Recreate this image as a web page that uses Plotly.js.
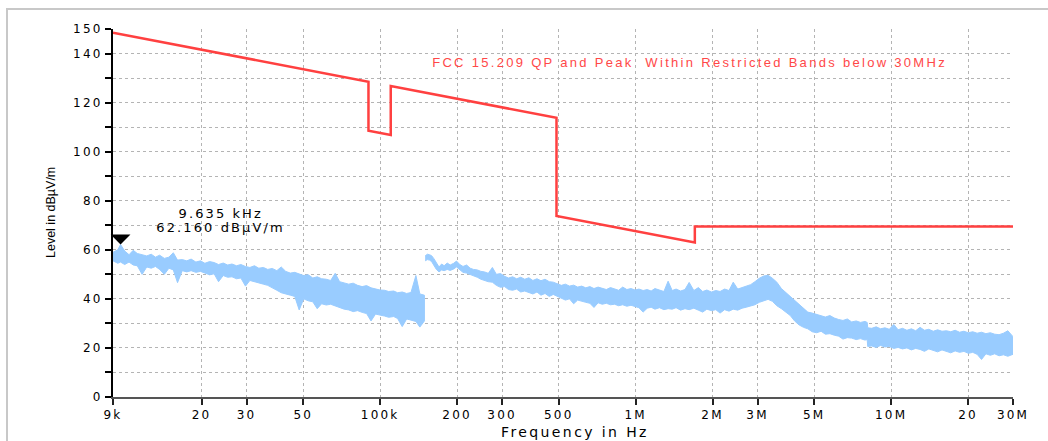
<!DOCTYPE html>
<html>
<head>
<meta charset="utf-8">
<script src="https://cdn.plot.ly/plotly-3.0.1.min.js"></script>
<style>
  html, body { margin: 0; padding: 0; background: #fff; }
  #wrap { position: relative; width: 1048px; height: 441px; overflow: hidden; }
  #frame { position: absolute; left: 6px; top: 8px; width: 1100px; height: 500px;
           border-top: 2px solid #c8c8c8; border-left: 2px solid #c8c8c8; }
  #chart { position: absolute; left: 0; top: 0; width: 1048px; height: 441px; }
  #chart .xtick text, #chart .ytick text { letter-spacing: 2.2px; }
  #chart .annotation[data-index="0"] text { letter-spacing: 2.3px; }
  #chart .annotation[data-index="1"] text,
  #chart .annotation[data-index="2"] text { letter-spacing: 2.1px; }
  #chart .annotation[data-index="4"] text { letter-spacing: 2.4px; }
</style>
</head>
<body>
<div id="wrap">
  <div id="frame"></div>
  <div id="chart"></div>
</div>
<script>
// Peak-detector sweep, 9 kHz - 150 kHz band (frequency in kHz, band top / bottom in dBµV/m)
const sweepLowFreqKHz = [9, 9.4, 9.635, 10, 10.4, 10.8, 11.2, 11.7, 12.2, 12.7, 13.2, 13.7, 14.3, 14.9, 15.5, 16.1,
  16.8, 17.5, 18.2, 19, 19.8, 20.6, 21.5, 22.4, 23.3, 24.3, 25.3, 26.3, 27.4, 28.5, 29.7, 30.9, 32.2, 33.5, 34.9,
  36.3, 37.8, 39.4, 41, 42.7, 44.5, 46.3, 48.2, 50.2, 52.3, 54.5, 56.7, 59, 61.5, 64, 66.7, 69.4, 72.3, 75.3, 78.4,
  81.6, 85, 88.5, 92.1, 95.9, 99.9, 104, 108, 113, 117, 122, 127, 132, 138, 143, 149];
const sweepLowTop = [59.0, 60.0, 62.16, 59.5, 58.0, 59.8, 58.5, 58.0, 57.5, 58.2, 57.0, 57.8, 56.5, 57.0, 58.8, 55.8,
  56.0, 55.5, 56.2, 55.0, 55.5, 54.5, 55.2, 54.8, 54.0, 54.6, 53.8, 54.2, 53.5, 54.0, 53.2, 52.8, 53.5, 52.5, 52.8,
  52.0, 52.4, 51.5, 53.0, 51.2, 50.5, 50.8, 50.0, 49.5, 49.8, 48.5, 49.0, 48.2, 48.0, 47.5, 50.4, 47.0, 46.5, 46.0, 46.4,
  45.5, 45.0, 45.4, 44.5, 44.0, 43.6, 43.5, 43.0, 43.2, 42.5, 42.8, 42.2, 42.6, 49.5, 42.0, 41.5];
const sweepLowBottom = [55.5, 54.5, 55.0, 54.0, 55.0, 53.8, 53.5, 50.0, 53.0, 52.5, 53.2, 52.0, 50.0, 52.5, 51.8, 46.6,
  51.5, 51.0, 51.5, 50.8, 51.2, 50.5, 49.8, 50.2, 47.0, 49.5, 48.8, 49.0, 48.2, 48.5, 45.2, 47.5, 47.0, 46.5, 46.0,
  45.5, 44.5, 43.5, 42.5, 42.0, 41.5, 41.0, 35.5, 40.0, 39.2, 38.8, 36.0, 38.0, 37.5, 37.8, 37.0, 36.5, 35.8, 35.5, 34.8,
  35.2, 34.5, 34.0, 31.0, 33.8, 33.5, 33.0, 32.5, 32.8, 32.0, 28.7, 31.8, 31.5, 30.8, 28.5, 31.0];

// Peak-detector sweep, 150 kHz - 30 MHz band
const sweepHighFreqKHz = [150, 153, 156, 159, 162, 166, 170, 174, 178, 183, 188, 194, 199, 205, 211, 218, 225, 232,
  240, 248, 256, 265, 275, 285, 296, 307, 318, 330, 342, 355, 368, 382, 396, 411, 426, 442, 459, 476, 494, 512, 531,
  551, 572, 593, 615, 638, 662, 687, 713, 740, 768, 797, 827, 858, 890, 924, 959, 995, 1030, 1070, 1110, 1150, 1190,
  1240, 1290, 1340, 1390, 1440, 1500, 1560, 1620, 1690, 1760, 1830, 1900, 1980, 2060, 2140, 2230, 2320, 2410, 2510,
  2610, 2710, 2820, 2930, 3050, 3170, 3300, 3430, 3570, 3720, 3870, 4030, 4190, 4360, 4540, 4720, 4910, 5110, 5320,
  5530, 5760, 5990, 6230, 6480, 6740, 7010, 7300, 7590, 7900, 8060, 8100, 8400, 8740, 9090, 9460, 9840, 10240, 10650,
  11080, 11530, 12000, 12480, 12980, 13500, 14050, 14620, 15210, 15820, 16460, 17120, 17810, 18530, 19280, 20060,
  20870, 21710, 22590, 23500, 24450, 25430, 26460, 27530, 28640, 30000];
const sweepHighTop = [57.5, 58.2, 58.0, 57.6, 56.5, 54.5, 53.0, 54.2, 53.5, 54.6, 53.8, 54.5, 55.4, 54.0, 53.2, 53.8,
  52.5, 52.0, 51.8, 51.2, 51.0, 50.4, 52.8, 50.0, 50.3, 49.2, 48.5, 49.0, 48.2, 48.8, 48.0, 48.6, 47.5, 48.2, 47.4,
  48.0, 47.0, 46.8, 46.2, 45.5, 46.0, 45.2, 45.6, 44.8, 45.2, 44.5, 45.0, 44.2, 44.8, 44.4, 43.8, 44.6, 44.2, 43.5,
  44.8, 43.8, 44.2, 43.6, 44.0, 43.4, 43.8, 43.2, 44.2, 43.6, 43.0, 47.2, 43.4, 44.0, 43.2, 43.8, 46.7, 43.4, 44.6,
  43.0, 43.6, 42.8, 43.4, 43.0, 44.0, 43.4, 46.8, 44.0, 44.6, 45.2, 45.8, 47.0, 48.4, 49.3, 49.6, 48.4, 46.8, 44.2,
  42.6, 40.8, 39.4, 37.6, 36.0, 34.6, 34.2, 33.6, 33.0, 32.6, 33.2, 32.2, 31.6, 31.2, 31.8, 30.6, 31.0, 30.4, 30.8,
  30.4, 28.2, 28.0, 28.6, 27.8, 28.2, 27.6, 29.6, 27.4, 28.0, 27.2, 27.8, 27.0, 28.4, 27.2, 27.6, 26.8, 27.4, 26.8,
  27.0, 26.6, 27.2, 26.4, 26.8, 26.2, 26.6, 26.0, 26.4, 25.8, 26.2, 25.6, 25.4, 26.0, 27.0, 24.6];
const sweepHighBottom = [55.5, 56.0, 55.8, 55.2, 54.0, 52.0, 51.0, 51.8, 51.5, 52.0, 51.6, 52.2, 53.0, 51.8, 50.8,
  50.5, 49.8, 49.5, 48.8, 48.0, 47.5, 47.0, 46.8, 45.5, 44.7, 45.0, 43.8, 43.5, 44.0, 42.8, 43.2, 42.5, 42.0, 42.8,
  41.5, 42.2, 41.0, 41.8, 40.8, 40.2, 39.5, 40.0, 38.0, 39.5, 39.0, 38.6, 38.2, 36.5, 38.4, 37.8, 38.2, 37.6, 37.8,
  37.2, 37.6, 37.0, 37.4, 36.8, 36.4, 34.6, 36.2, 36.6, 35.8, 36.4, 35.6, 36.0, 35.8, 36.4, 35.4, 36.0, 35.6, 36.2,
  35.4, 34.6, 35.8, 35.2, 35.6, 34.2, 35.6, 35.0, 35.8, 35.4, 36.2, 36.6, 37.0, 37.6, 38.6, 39.2, 39.8, 39.0, 37.2,
  36.0, 34.8, 33.2, 31.0, 29.4, 28.4, 27.8, 26.6, 26.2, 26.8, 25.6, 25.8, 25.2, 24.8, 23.6, 24.2, 24.0, 23.4, 23.8,
  23.2, 23.4, 20.6, 20.8, 20.2, 21.0, 20.4, 20.6, 19.8, 20.2, 19.6, 20.0, 19.2, 19.8, 19.4, 18.6, 19.6, 19.0, 18.4,
  19.2, 18.6, 18.0, 18.8, 18.2, 18.6, 17.8, 18.2, 17.4, 15.3, 17.6, 17.0, 17.6, 16.8, 17.2, 16.6, 17.4];

// FCC 15.209 limit line (Hz, dBµV/m)
const limitFreqHz = [9e3, 90e3, 90e3, 110e3, 110e3, 490e3, 490e3, 1.705e6, 1.705e6, 30e6];
const limitLevel = [148.5, 128.5, 108.5, 106.8, 126.8, 113.8, 73.8, 63.0, 69.5, 69.5];
const limitName = 'FCC 15.209 QP and Peak\u00a0 Within Restricted Bands below 30MHz';

// Peak marker
const markerFreqHz = 9635;
const markerLevel = 62.16;

// Axis ticks
const xTickVals = [9e3, 2e4, 3e4, 5e4, 1e5, 2e5, 3e5, 5e5, 1e6, 2e6, 3e6, 5e6, 1e7, 2e7, 3e7];
const xTickText = ['9k', '20', '30', '50', '100k', '200', '300', '500', '1M', '2M', '3M', '5M', '10M', '20', '30M'];
const yTickVals = [0, 10, 20, 30, 40, 50, 60, 70, 80, 90, 100, 110, 120, 130, 140, 150];
const yTickText = ['0', '', '20', '', '40', '', '60', '', '80', '', '100', '', '120', '', '140', '150'];

// Closed outline of a min/max sweep band: top edge left-to-right, bottom edge back.
function bandTrace(freqKHz, top, bottom) {
  const f = freqKHz.map(v => v * 1000);
  return {
    x: f.concat(f.slice().reverse()),
    y: top.concat(bottom.slice().reverse()),
    type: 'scatter', mode: 'lines', fill: 'toself',
    fillcolor: '#99ccff', line: { color: '#99ccff', width: 1 },
    hoverinfo: 'skip'
  };
}

const traces = [
  bandTrace(sweepLowFreqKHz, sweepLowTop, sweepLowBottom),
  bandTrace(sweepHighFreqKHz, sweepHighTop, sweepHighBottom),
  {
    x: limitFreqHz, y: limitLevel, type: 'scatter', mode: 'lines',
    name: limitName, line: { color: '#ff4040', width: 2.5 }
  }
];

const tickFont = { family: 'DejaVu Sans', size: 12, color: '#000' };
const markerX = Math.log10(markerFreqHz);

const layout = {
  width: 1048, height: 441,
  margin: { l: 113, r: 35, t: 29, b: 44 },
  paper_bgcolor: 'rgba(0,0,0,0)',
  plot_bgcolor: '#ffffff',
  showlegend: false,
  xaxis: {
    type: 'log',
    range: [Math.log10(xTickVals[0]), Math.log10(xTickVals[xTickVals.length - 1])],
    tickmode: 'array', tickvals: xTickVals, ticktext: xTickText,
    ticks: 'outside', ticklen: 6, tickwidth: 2, tickcolor: '#222',
    showline: true, linecolor: '#555', linewidth: 2,
    showgrid: true, gridcolor: '#b4b4b4', gridwidth: 1, griddash: 'dot',
    zeroline: false, tickfont: tickFont, fixedrange: true
  },
  yaxis: {
    range: [yTickVals[0], yTickVals[yTickVals.length - 1]],
    tickmode: 'array', tickvals: yTickVals, ticktext: yTickText,
    ticks: 'outside', ticklen: 6, tickwidth: 2, tickcolor: '#000',
    showline: true, linecolor: '#000', linewidth: 2,
    showgrid: true, gridcolor: '#b4b4b4', gridwidth: 1, griddash: 'dot',
    zeroline: false, tickfont: tickFont, fixedrange: true
  },
  annotations: [
    { // limit line name
      text: limitName, xref: 'paper', yref: 'paper', x: 0.641, y: 0.910,
      xanchor: 'center', yanchor: 'middle', showarrow: false,
      font: { family: 'Liberation Sans', size: 13, color: '#ff4848' }
    },
    { // marker frequency
      text: (markerFreqHz / 1000).toFixed(3) + ' kHz', xref: 'x', yref: 'y',
      x: markerX, y: markerLevel, xanchor: 'center', yanchor: 'middle',
      xshift: 100, yshift: 31, showarrow: false,
      font: { family: 'DejaVu Sans', size: 13, color: '#000' }
    },
    { // marker level
      text: markerLevel.toFixed(3) + ' dBµV/m', xref: 'x', yref: 'y',
      x: markerX, y: markerLevel, xanchor: 'center', yanchor: 'middle',
      xshift: 100, yshift: 17, showarrow: false,
      font: { family: 'DejaVu Sans', size: 13, color: '#000' }
    },
    { // marker triangle pointing at the peak
      text: '', xref: 'x', yref: 'y', x: markerX, y: markerLevel,
      showarrow: true, arrowhead: 1, arrowsize: 1.65, arrowwidth: 2,
      arrowcolor: '#000', ax: 0, ay: -10, standoff: 0
    },
    { // x axis title
      text: 'Frequency in Hz', xref: 'paper', yref: 'paper', x: 0.513, y: 0,
      xanchor: 'center', yanchor: 'middle', yshift: -35, showarrow: false,
      font: { family: 'DejaVu Sans', size: 14, color: '#000' }
    },
    { // y axis title
      text: 'Level in dBµV/m', xref: 'paper', yref: 'paper', x: 0, y: 0.5,
      xanchor: 'center', yanchor: 'middle', xshift: -62, textangle: -90, showarrow: false,
      font: { family: 'Liberation Sans', size: 12.5, color: '#000' }
    }
  ]
};

Plotly.newPlot('chart', traces, layout, { staticPlot: true, displayModeBar: false });
</script>
</body>
</html>
